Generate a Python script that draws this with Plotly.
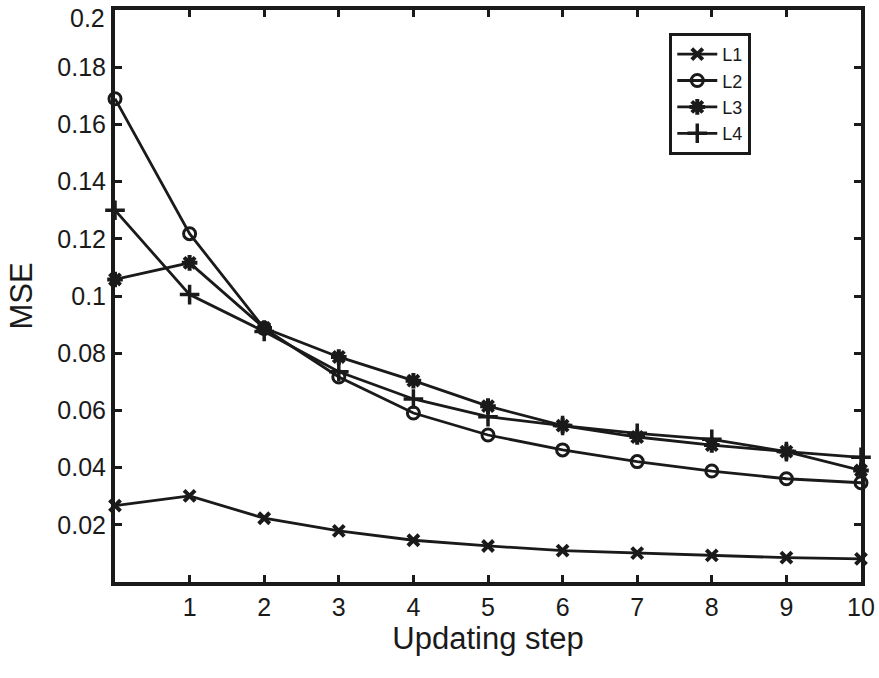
import plotly.graph_objects as go

steps = [0, 1, 2, 3, 4, 5, 6, 7, 8, 9, 10]
L1 = [0.0267, 0.0301, 0.0223, 0.0179, 0.0146, 0.0126, 0.0110, 0.0101, 0.0093, 0.0085, 0.0081]
L2 = [0.1690, 0.1218, 0.0887, 0.0717, 0.0591, 0.0514, 0.0462, 0.0421, 0.0388, 0.0361, 0.0347]
L3 = [0.1058, 0.1116, 0.0888, 0.0787, 0.0704, 0.0615, 0.0547, 0.0507, 0.0479, 0.0456, 0.0390]
L4 = [0.1300, 0.1005, 0.0876, 0.0735, 0.0640, 0.0578, 0.0547, 0.0520, 0.0499, 0.0456, 0.0436]

x_ticks = [1, 2, 3, 4, 5, 6, 7, 8, 9, 10]
y_ticks = [0.02, 0.04, 0.06, 0.08, 0.1, 0.12, 0.14, 0.16, 0.18, 0.2]
y_ticklabels = ["0.02", "0.04", "0.06", "0.08", "0.1", "0.12", "0.14", "0.16", "0.18", "0.2"]

series = [
    ("L1", L1, "x-thin-open", 11, 4),
    ("L2", L2, "circle-open", 12, 3),
    ("L3", L3, "asterisk-open", 13, 4),
    ("L4", L4, "cross-thin-open", 14, 3.5),
]

col = "#1a1a1a"
fig = go.Figure()
for name, vals, sym, sz, mlw in series:
    fig.add_trace(go.Scatter(
        x=steps, y=vals, name=name, mode="lines+markers",
        line=dict(color=col, width=2.8),
        marker=dict(symbol=sym, size=sz, color=col, line=dict(color=col, width=mlw)),
        cliponaxis=False,
    ))

# the top label sits a little below its tick in the reference (kept inside the page)
shown_labels = y_ticklabels[:-1] + [""]
fig.add_annotation(
    xref="paper", yref="y", x=0, y=y_ticks[-1], text=y_ticklabels[-1],
    showarrow=False, xanchor="right", yanchor="middle", xshift=-8, yshift=-8,
    font=dict(size=25, color=col),
)

fig.update_layout(
    width=879, height=678,
    margin=dict(l=115, r=18, t=10, b=96, autoexpand=False),
    paper_bgcolor="white", plot_bgcolor="white",
    font=dict(family="Liberation Sans, Arial, sans-serif", color=col, size=25),
    showlegend=True,
    legend=dict(
        x=0.743, y=0.96, xanchor="left", yanchor="top",
        bordercolor=col, borderwidth=3, bgcolor="white",
        font=dict(size=18), tracegroupgap=0, itemwidth=40,
    ),
    xaxis=dict(
        range=[0, 10], tickvals=x_ticks, ticktext=[str(v) for v in x_ticks],
        showgrid=False, zeroline=False, automargin=False, ticklabeloverflow="allow",
        showline=True, linewidth=4, linecolor=col, mirror="ticks",
        ticks="inside", ticklen=7, tickwidth=3, tickcolor=col,
        tickfont=dict(size=25),
        title=dict(text="Updating step", font=dict(size=31), standoff=4),
    ),
    yaxis=dict(
        range=[0, 0.20002], tickvals=y_ticks, ticktext=shown_labels,
        showgrid=False, zeroline=False, automargin=False, ticklabeloverflow="allow",
        showline=True, linewidth=4, linecolor=col, mirror="ticks",
        ticks="inside", ticklen=7, tickwidth=3, tickcolor=col,
        tickfont=dict(size=25),
        title=dict(text="MSE", font=dict(size=31), standoff=16),
    ),
)

fig.write_html("out.html", config={"displayModeBar": False},
               post_script="document.body.style.margin='0';")
